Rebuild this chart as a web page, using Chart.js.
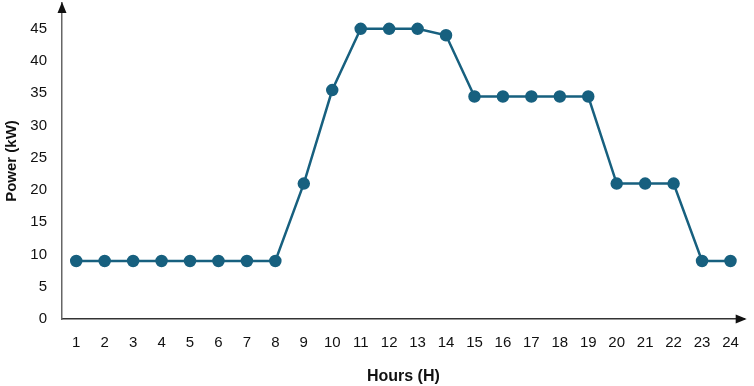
<!DOCTYPE html>
<html lang="en">
<head>
    <meta charset="UTF-8">
    <title>Power by hour</title>
    <script src="https://cdn.jsdelivr.net/npm/chart.js"></script>
    <style>
        html, body { margin: 0; padding: 0; background: #fff; }
        #wrap { width: 754px; height: 386px; }
    </style>
</head>
<body>
    <div id="wrap"><canvas id="grafico"></canvas></div>

    <script>
        // data
        const hours = ['1','2','3','4','5','6','7','8','9','10','11','12','13','14','15','16','17','18','19','20','21','22','23','24'];
        const power = [9, 9, 9, 9, 9, 9, 9, 9, 21, 35.5, 45, 45, 45, 44, 34.5, 34.5, 34.5, 34.5, 34.5, 21, 21, 21, 9, 9];
        const yTicks = [0, 5, 10, 15, 20, 25, 30, 35, 40, 45];

        const lineColor = '#17607f';
        const fontFam = 'Liberation Sans, Arial, sans-serif';

        // arrow heads on the ends of both axes
        const arrows = {
            id: 'arrows',
            afterDraw(chart) {
                const ctx = chart.ctx;
                const a = chart.chartArea;
                ctx.save();
                ctx.fillStyle = '#111';
                // y axis, top
                ctx.beginPath();
                ctx.moveTo(a.left, a.top - 1);
                ctx.lineTo(a.left - 4.5, a.top + 10);
                ctx.lineTo(a.left + 4.5, a.top + 10);
                ctx.closePath();
                ctx.fill();
                // x axis, right
                ctx.beginPath();
                ctx.moveTo(a.right + 2, a.bottom);
                ctx.lineTo(a.right - 9, a.bottom - 4.5);
                ctx.lineTo(a.right - 9, a.bottom + 4.5);
                ctx.closePath();
                ctx.fill();
                ctx.restore();
            }
        };

        new Chart(document.getElementById('grafico'), {
            type: 'line',
            data: {
                labels: hours,
                datasets: [{
                    data: power,
                    borderColor: lineColor,
                    backgroundColor: lineColor,
                    borderWidth: 2.5,
                    pointRadius: 5,
                    pointHoverRadius: 5,
                    tension: 0
                }]
            },
            options: {
                responsive: true,
                maintainAspectRatio: false,
                animation: false,
                layout: { autoPadding: false, padding: { top: 3, right: 8, left: 0, bottom: 0 } },
                plugins: {
                    legend: { display: false },
                    tooltip: { enabled: false }
                },
                scales: {
                    x: {
                        offset: true,
                        afterFit(scale) { scale.height = 67; },
                        grid: { display: false, drawTicks: false },
                        border: { display: true, color: '#333', width: 1.5 },
                        ticks: {
                            color: '#111',
                            padding: 15,
                            maxRotation: 0,
                            autoSkip: false,
                            font: { family: fontFam, size: 15 }
                        },
                        title: {
                            display: true,
                            text: 'Hours (H)',
                            color: '#111',
                            padding: { top: 12, bottom: 0 },
                            font: { family: fontFam, size: 16, weight: 'bold' }
                        }
                    },
                    y: {
                        min: 0,
                        max: 49,
                        afterFit(scale) {
                            scale.width = 62;
                            // tick padding would otherwise push the plot down
                            scale.paddingTop = 0;
                            scale.paddingBottom = 0;
                        },
                        afterBuildTicks(scale) {
                            scale.ticks = yTicks.map(v => ({ value: v }));
                        },
                        grid: { display: false, drawTicks: false },
                        border: { display: true, color: '#666', width: 1.5 },
                        ticks: {
                            color: '#111',
                            padding: 15,
                            font: { family: fontFam, size: 15 }
                        },
                        title: {
                            display: true,
                            text: 'Power (kW)',
                            color: '#111',
                            padding: { top: 3, bottom: 0 },
                            font: { family: fontFam, size: 15, weight: 'bold' }
                        }
                    }
                }
            },
            plugins: [arrows]
        });
    </script>
</body>
</html>
